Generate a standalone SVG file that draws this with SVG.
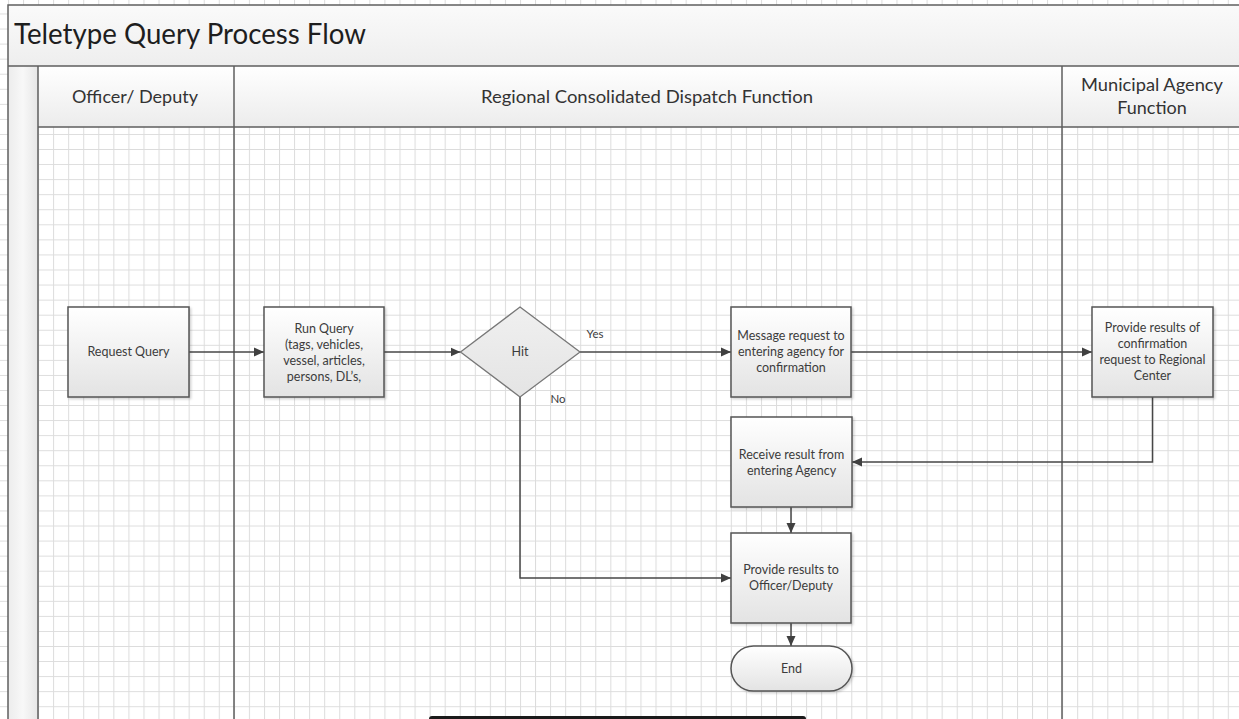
<svg xmlns="http://www.w3.org/2000/svg" width="1239" height="719" viewBox="0 0 1239 719">
<defs>
<style>
.frame{fill:none;stroke:#5f5f5f;stroke-width:1.5}
.lane{stroke:#5f5f5f;stroke-width:1.5;fill:none}
.hdr{font-family:Lato,"Open Sans",sans-serif;font-size:18px;fill:#333;text-anchor:middle}
.title{font-family:Lato,"Open Sans",sans-serif;font-size:28px;fill:#1e1e1e}
.box{fill:url(#nodeFill);stroke:#555;stroke-width:1.5;filter:url(#shadow)}
.dia{fill:url(#diaFill);stroke:#777;stroke-width:1.3}
.lbl{font-family:Lato,"Open Sans",sans-serif;font-size:12.5px;fill:#3c3c3c;text-anchor:middle}
.edge{font-family:Lato,"Open Sans",sans-serif;font-size:11.5px;fill:#3c3c3c;text-anchor:middle}
.conn{fill:none;stroke:#474747;stroke-width:1.5;marker-end:url(#arrow)}
</style>
<pattern id="grid" patternUnits="userSpaceOnUse" x="7.94" y="13.5" width="15.06" height="15.06">
<path d="M0.5,0 V15.06 M0,0.5 H15.06" stroke="#dcdcdc" stroke-width="1" fill="none"/>
</pattern>
<linearGradient id="nodeFill" x1="0" y1="0" x2="0" y2="1">
<stop offset="0" stop-color="#ffffff"/><stop offset="1" stop-color="#e3e3e3"/>
</linearGradient>
<linearGradient id="diaFill" x1="0" y1="0" x2="0" y2="1">
<stop offset="0" stop-color="#f0f0f0"/><stop offset="1" stop-color="#e4e4e4"/>
</linearGradient>
<linearGradient id="hdrFill" x1="0" y1="0" x2="0" y2="1">
<stop offset="0" stop-color="#ffffff"/><stop offset="1" stop-color="#ececec"/>
</linearGradient>
<linearGradient id="titleFill" x1="0" y1="0" x2="0" y2="1">
<stop offset="0" stop-color="#fafafa"/><stop offset="1" stop-color="#eeeeee"/>
</linearGradient>
<linearGradient id="stripFill" x1="0" y1="0" x2="1" y2="0">
<stop offset="0" stop-color="#ececec"/><stop offset="0.5" stop-color="#f8f8f8"/><stop offset="1" stop-color="#e6e6e6"/>
</linearGradient>
<filter id="shadow" x="-10%" y="-10%" width="125%" height="125%">
<feDropShadow dx="1.5" dy="1.5" stdDeviation="1" flood-color="#000" flood-opacity="0.18"/>
</filter>
<marker id="arrow" markerUnits="userSpaceOnUse" markerWidth="11" markerHeight="10" refX="10" refY="5" orient="auto">
<path d="M0,0.5 L10,5 L0,9.5 Z" fill="#404040"/>
</marker>
</defs>

<rect x="0" y="0" width="1239" height="719" fill="#ffffff"/>
<rect x="0" y="0" width="1239" height="719" fill="url(#grid)"/>

<g id="pool">
<rect x="8" y="5" width="1240" height="61" fill="url(#titleFill)"/>
<rect x="8" y="66" width="30" height="660" fill="url(#stripFill)"/>
<rect x="38" y="66" width="196" height="61" fill="url(#hdrFill)"/>
<rect x="234" y="66" width="828" height="61" fill="url(#hdrFill)"/>
<rect x="1062" y="66" width="190" height="61" fill="url(#hdrFill)"/>
<path class="frame" d="M1245,5 H8 V725"/>
<path class="lane" d="M8,66 H1245 M38,127 H1245 M38,66 V725 M234,66 V725 M1062,66 V725"/>
<text class="title" x="14" y="44" textLength="352" lengthAdjust="spacingAndGlyphs">Teletype Query Process Flow</text>
<text class="hdr" x="135" y="103" textLength="126" lengthAdjust="spacingAndGlyphs">Officer/ Deputy</text>
<text class="hdr" x="647" y="103" textLength="332" lengthAdjust="spacingAndGlyphs">Regional Consolidated Dispatch Function</text>
<text class="hdr" x="1152" y="91" textLength="142" lengthAdjust="spacingAndGlyphs">Municipal Agency</text>
<text class="hdr" x="1152" y="114">Function</text>
</g>

<g id="connectors">
<path class="conn" d="M189,352 H264"/>
<path class="conn" d="M384,352 H460.5"/>
<path class="conn" d="M580,352 H731"/>
<path class="conn" d="M851,352 H1092"/>
<path class="conn" d="M1152.5,397 V462 H852"/>
<path class="conn" d="M791,507 V533"/>
<path class="conn" d="M520,397 V578 H731"/>
<path class="conn" d="M791,623 V646"/>
<text class="edge" x="595" y="338">Yes</text>
<text class="edge" x="558" y="403">No</text>
</g>

<g id="node-request-query">
<rect class="box" x="68" y="307" width="121" height="90"/>
<text class="lbl" x="128.5" y="356">Request Query</text>
</g>

<g id="node-run-query">
<rect class="box" x="264" y="307" width="120" height="90"/>
<text class="lbl" x="324" y="332.5">Run Query</text>
<text class="lbl" x="324" y="348.5">(tags, vehicles,</text>
<text class="lbl" x="324" y="364.5">vessel, articles,</text>
<text class="lbl" x="324" y="380.5">persons, DL&#8217;s,</text>
</g>

<g id="node-hit">
<polygon class="dia" points="520,307 580,352 520,397 460.5,352"/>
<text class="lbl" x="520" y="356">Hit</text>
</g>

<g id="node-message-request">
<rect class="box" x="731" y="307" width="120" height="90"/>
<text class="lbl" x="791" y="340">Message request to</text>
<text class="lbl" x="791" y="356">entering agency for</text>
<text class="lbl" x="791" y="372">confirmation</text>
</g>

<g id="node-provide-confirmation">
<rect class="box" x="1092" y="307" width="121" height="90"/>
<text class="lbl" x="1152.5" y="332">Provide results of</text>
<text class="lbl" x="1152.5" y="348">confirmation</text>
<text class="lbl" x="1152.5" y="364">request to Regional</text>
<text class="lbl" x="1152.5" y="380">Center</text>
</g>

<g id="node-receive-result">
<rect class="box" x="731" y="417" width="121" height="90"/>
<text class="lbl" x="791.5" y="458.5">Receive result from</text>
<text class="lbl" x="791.5" y="474.5">entering Agency</text>
</g>

<g id="node-provide-officer">
<rect class="box" x="731" y="533" width="120" height="90"/>
<text class="lbl" x="791" y="574">Provide results to</text>
<text class="lbl" x="791" y="590">Officer/Deputy</text>
</g>

<g id="node-end">
<rect class="box" x="731" y="646" width="121" height="45" rx="22.5" ry="22.5"/>
<text class="lbl" x="791.5" y="673">End</text>
</g>

<rect x="429" y="716" width="377" height="8" rx="3" fill="#1a1a1a"/>
</svg>
